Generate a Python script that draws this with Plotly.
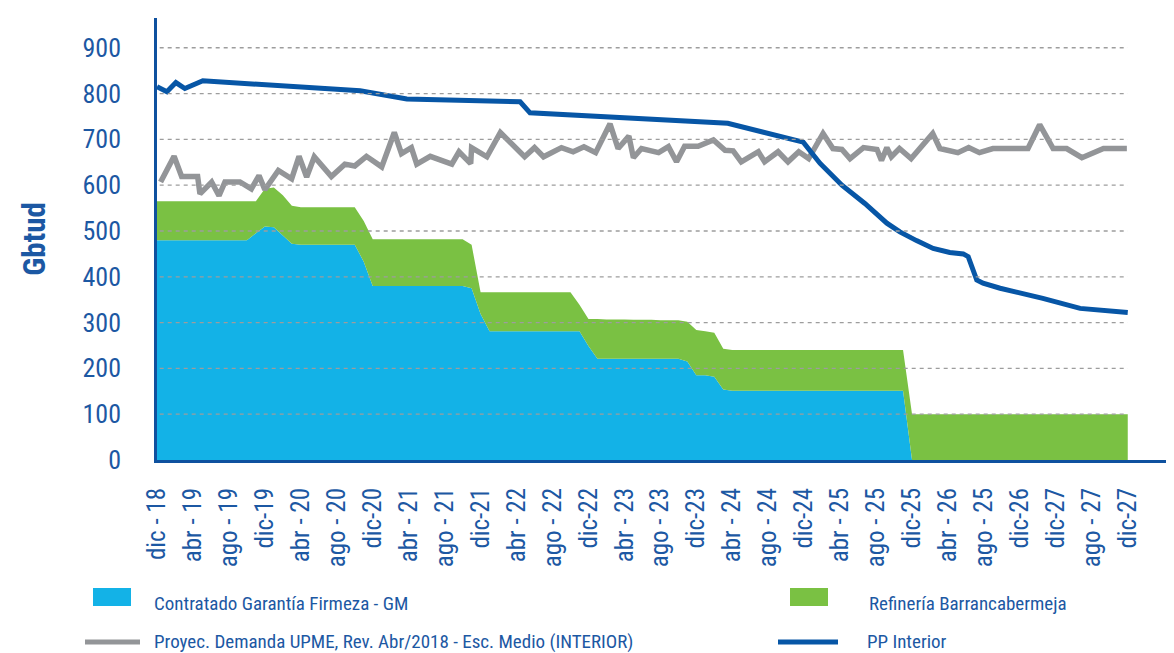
import plotly.graph_objects as go

# ---------------- data ----------------
tick_labels = ["dic - 18", "abr - 19", "ago - 19", "dic-19", "abr - 20", "ago - 20", "dic-20",
               "abr - 21", "ago - 21", "dic-21", "abr - 22", "ago - 22", "dic-22", "abr - 23",
               "ago - 23", "dic-23", "abr - 24", "ago - 24", "dic-24", "abr - 25", "ago - 25",
               "dic-25", "abr - 26", "ago - 25", "dic-26", "dic-27", "ago - 27", "dic-27"]
tick_months = [0, 4, 8, 12, 16, 20, 24, 28, 32, 36, 40, 44, 48, 52, 56, 60, 64, 68, 72, 76,
               80, 84, 88, 92, 96, 100, 104, 108]

# month index 0 = dic-18 ... 108 = dic-27
months = list(range(109))

contratado_gm = [
    480, 480, 480, 480, 480, 480, 480, 480, 480, 480, 480,
    495, 510, 508, 490, 472,
    470, 470, 470, 470, 470, 470, 470,
    433,
    380, 380, 380, 380, 380, 380, 380, 380, 380, 380, 380,
    375, 319,
    281, 281, 281, 281, 281, 281, 281, 281, 281, 281, 281,
    249,
    221, 221, 221, 221, 221, 221, 221, 221, 221, 221,
    215, 185, 185, 182, 154,
    151, 151, 151, 151, 151, 151, 151, 151, 151, 151,
    151, 151, 151, 151, 151, 151, 151, 151, 151, 151,
    0, 0, 0, 0, 0, 0, 0, 0, 0, 0, 0, 0, 0, 0, 0, 0, 0, 0, 0, 0, 0, 0, 0, 0, 0,
]

refineria = [
    85, 85, 85, 85, 85, 85, 85, 85, 85, 85, 85,
    70, 82, 87, 88, 83,
    82, 82, 82, 82, 82, 82, 82,
    89,
    102, 102, 102, 102, 102, 102, 102, 102, 102, 102, 102,
    95, 47,
    85, 85, 85, 85, 85, 85, 85, 85, 85, 85,
    58, 59,
    87, 86, 86, 86, 85, 85, 85, 84, 84, 84,
    87, 99, 96, 96, 89,
    89, 89, 89, 89, 89, 89, 89, 89, 89, 89,
    89, 89, 89, 89, 89, 89, 89, 89, 89, 89,
    100, 100, 100, 100, 100, 100, 100, 100, 100, 100, 100, 100, 100,
    100, 100, 100, 100, 100, 100, 100, 100, 100, 100, 100, 100,
]

demanda_x = [0.4, 1.9, 2.74, 4.52, 4.78, 6.08, 6.9, 7.56, 9.23, 10.5, 11.35, 12.0, 13.5, 14.98,
             15.8, 16.65, 17.5, 19.4, 20.9, 22.0, 23.3, 25.0, 26.4, 27.2, 28.3, 28.9, 30.4,
             32.8, 33.6, 34.9, 35.0, 36.7, 38.2, 40.9, 42.0, 43.0, 45.0, 46.3, 47.5, 48.8,
             50.4, 51.3, 52.5, 53.0, 53.9, 55.8, 56.9, 57.8, 58.7, 60.2, 61.9, 63.2, 64.1,
             65.0, 66.9, 67.6, 69.1, 70.2, 71.4, 72.5, 74.1, 75.2, 76.2, 77.1, 78.6, 80.1,
             80.6, 81.2, 81.7, 82.6, 83.9, 86.3, 87.1, 89.1, 90.3, 91.5, 93.0, 96.9, 98.2,
             99.7, 101.2, 102.9, 105.3, 107.9]
demanda_y = [607, 663, 619, 619, 581, 607, 577, 607, 607, 592, 621, 590, 632, 614,
             663, 618, 662, 619, 646, 642, 663, 640, 715, 669, 682, 646, 663,
             646, 673, 647, 682, 662, 715, 662, 682, 662, 682, 673, 684, 671,
             734, 680, 707, 660, 680, 671, 684, 651, 685, 685, 699, 676, 675,
             651, 673, 651, 673, 651, 673, 658, 713, 680, 678, 658, 682, 678,
             654, 682, 662, 680, 658, 713, 680, 671, 682, 671, 680, 680, 732,
             680, 680, 660, 680, 680]

pp_x = [0, 1.1, 2.1, 3.1, 5.1, 22.6, 27.8, 40.4, 41.5, 63.5, 71.9, 73.75, 76.2, 77.45, 78.75,
        81.2, 82.65, 84.5, 86.35, 88.2, 89.7, 90.25, 91.2, 91.9, 93.8, 98.55, 102.7, 108]
pp_y = [815, 804, 824, 811, 828, 806, 788, 782, 758, 735, 694, 648, 600, 582, 560,
        517, 498, 479, 462, 453, 450, 444, 393, 386, 375, 353, 331, 322]

y_ticks = [0, 100, 200, 300, 400, 500, 600, 700, 800, 900]

# ---------------- style ----------------
# the page body has an 8px margin, so the figure is placed at (8, 8) in the window
OFF = 8
W, H = 1174 - OFF, 653 - OFF
PLOT_L, PLOT_R, PLOT_T, PLOT_B = 157, 1170, 18, 460   # window pixels of the plot area
ML, MR = PLOT_L - OFF, 1174 - PLOT_R
MT, MB = PLOT_T - OFF, 653 - PLOT_B
FONT = "Liberation Sans Narrow, Arial Narrow, Roboto Condensed, sans-serif"
TXT = "#1c58a3"
AXIS = "#0f519f"
C_GM = "#13b2e7"
C_REF = "#7ac143"
C_DEM = "#939598"
C_PP = "#0756a6"

fig = go.Figure()
fig.add_trace(go.Scatter(x=months, y=contratado_gm, stackgroup="s", mode="none",
                         fillcolor=C_GM, name="Contratado Garantía Firmeza - GM",
                         showlegend=False))
fig.add_trace(go.Scatter(x=months, y=refineria, stackgroup="s", mode="none",
                         fillcolor=C_REF, name="Refinería Barrancabermeja",
                         showlegend=False))
fig.add_trace(go.Scatter(x=demanda_x, y=demanda_y, mode="lines",
                         line=dict(color=C_DEM, width=5.5),
                         name="Proyec. Demanda UPME, Rev. Abr/2018 - Esc. Medio (INTERIOR)",
                         showlegend=False))
fig.add_trace(go.Scatter(x=pp_x, y=pp_y, mode="lines", line=dict(color=C_PP, width=5),
                         name="PP Interior", showlegend=False))

# dashed gridlines (stop at the end of the data)
for v in y_ticks[1:]:
    fig.add_shape(type="line", xref="x", yref="y", x0=0.3, x1=months[-1], y0=v, y1=v,
                  line=dict(color="#9d9d9d", width=1.3, dash="4px,4px"), layer="above")

# manual legend (positions in window pixels)
plot_w = PLOT_R - PLOT_L
plot_h = PLOT_B - PLOT_T


def px(x):
    return (x - PLOT_L) / plot_w


def py(y):
    return (PLOT_B - y) / plot_h


legend_items = [
    ("rect", C_GM, 93, 131, 597, "Contratado Garantía Firmeza - GM", 152, 603),
    ("rect", C_REF, 790, 828, 597, "Refinería Barrancabermeja", 867, 603),
    ("line", C_DEM, 85, 140, 642, "Proyec. Demanda UPME, Rev. Abr/2018 - Esc. Medio (INTERIOR)", 152, 641),
    ("line", C_PP, 778, 838, 642, "PP Interior", 865, 641),
]
for kind, col, x0, x1, yc, label, tx, ty in legend_items:
    if kind == "rect":
        fig.add_shape(type="rect", xref="paper", yref="paper", x0=px(x0), x1=px(x1),
                      y0=py(yc + 9), y1=py(yc - 9), fillcolor=col, line=dict(width=0))
    else:
        fig.add_shape(type="line", xref="paper", yref="paper", x0=px(x0), x1=px(x1),
                      y0=py(yc), y1=py(yc), line=dict(color=col, width=5))
    fig.add_annotation(xref="paper", yref="paper", x=px(tx), y=py(ty), text=label,
                       showarrow=False, xanchor="left", yanchor="middle",
                       font=dict(family=FONT, size=19, color=TXT))

fig.update_layout(
    width=W, height=H,
    margin=dict(l=ML, r=MR, t=MT, b=MB),
    paper_bgcolor="white", plot_bgcolor="white",
    showlegend=False,
    font=dict(family=FONT, color=TXT),
    xaxis=dict(range=[0, 112.7], tickmode="array", tickvals=tick_months, ticktext=tick_labels,
               tickangle=-90, tickfont=dict(family=FONT, size=25, color=TXT),
               showgrid=False, zeroline=False, showline=True, linecolor=AXIS, linewidth=3,
               ticks="", ticklabelstandoff=15),
    yaxis=dict(range=[0, 965], tickmode="array", tickvals=y_ticks,
               tickfont=dict(family=FONT, size=26, color=TXT),
               showgrid=False, zeroline=False, showline=True, linecolor=AXIS, linewidth=2.5,
               ticks="", ticklabelstandoff=28,
               title=dict(text="<b>Gbtud</b>", font=dict(family=FONT, size=31, color=TXT),
                          standoff=28)),
)

fig.write_html("out.html")
